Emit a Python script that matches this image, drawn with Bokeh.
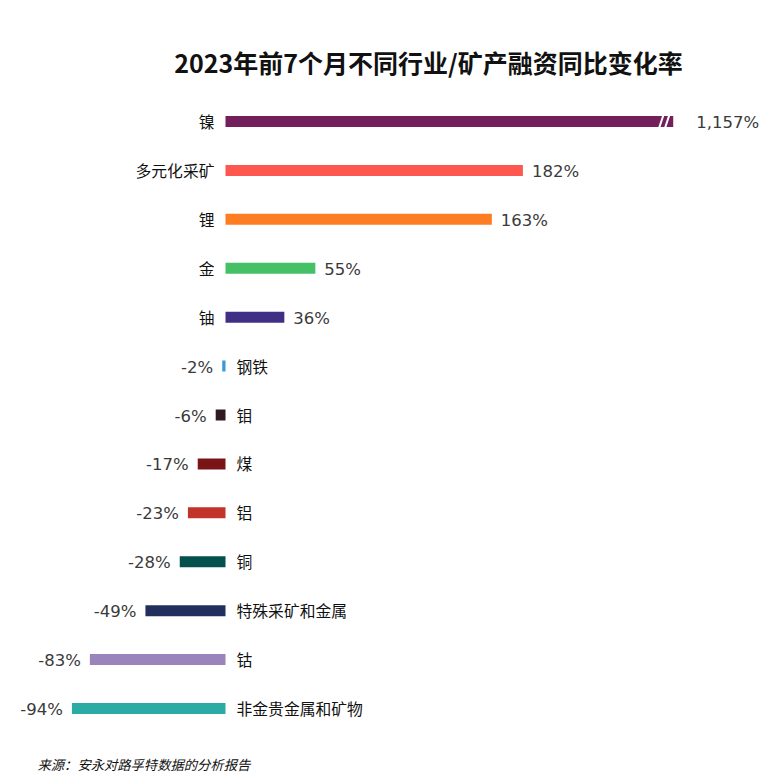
from bokeh.plotting import figure
from bokeh.models import ColumnDataSource, Range1d
from bokeh.core.properties import value
from bokeh.embed import file_html
from bokeh.resources import INLINE

# ---- data ----
categories = ["镍", "多元化采矿", "锂", "金", "铀", "钢铁", "钼", "煤", "铝", "铜",
              "特殊采矿和金属", "钴", "非金贵金属和矿物"]
changes = [1157, 182, 163, 55, 36, -2, -6, -17, -23, -28, -49, -83, -94]
colors = ["#721f5b", "#fd5750", "#fd7e22", "#45c067", "#412e85", "#3a9ad9", "#2f1a20",
          "#7a1416", "#c2342a", "#03504d", "#222f5e", "#9a84bb", "#2aaca5"]
axis_cap = 274  # broken-axis limit for the nickel bar
title_text = "2023年前7个月不同行业/矿产融资同比变化率"
source_text = "来源：安永对路孚特数据的分析报告"

# ---- layout ----
W, H = 760, 776
PX = 1.634          # px per percentage point
ROW = 48.92         # px per row
x0_page, y0_page = 225, 121   # page px of zero / first row
xs = -x0_page / PX
xe = xs + W / PX
ys = -y0_page / ROW
ye = (H - y0_page) / ROW

def dx(px):  # page x -> data x
    return xs + px / PX

def dy(py):  # page y -> data y
    return (py - y0_page) / ROW

n = len(categories)
idx = list(range(n))
disp = [min(v, axis_cap) for v in changes]
labels = [f"{v:,}%" for v in changes]
val_off = [(23 if v > axis_cap else 9) if v >= 0 else -9 for v in changes]
val_align = ["left" if v >= 0 else "right" for v in changes]
cat_off = [-11 if v >= 0 else 11 for v in changes]
cat_align = ["right" if v >= 0 else "left" for v in changes]

src = ColumnDataSource(dict(y=idx, right=disp, color=colors, lab=labels, voff=val_off,
                            valign=val_align, cat=categories, coff=cat_off,
                            calign=cat_align, zero=[0] * n))

p = figure(width=W, height=H, x_range=Range1d(xs, xe), y_range=Range1d(ye, ys),
           min_border=0, toolbar_location=None, output_backend="svg",
           x_axis_location=None, y_axis_location=None)
p.outline_line_color = None
p.xgrid.visible = False
p.ygrid.visible = False
p.background_fill_color = "white"

p.hbar(y="y", left="zero", right="right", height=0.225, fill_color="color",
       line_color=None, source=src)

# break marks on truncated bars
bk = [i for i, v in enumerate(changes) if v > axis_cap]
h2 = 0.13
for off in (7.3, 3.7):
    p.segment(x0=[axis_cap - off - 1.3] * len(bk), y0=[i + h2 for i in bk],
              x1=[axis_cap - off + 1.3] * len(bk), y1=[i - h2 for i in bk],
              line_color="white", line_width=2)

p.text(x="right", y="y", text="lab", x_offset="voff", text_align="valign",
       text_baseline="middle", text_font=value("DejaVu Sans"), text_font_size="16.5px",
       text_color="#3a3a3a", source=src, y_offset=1)
p.text(x="zero", y="y", text="cat", x_offset="coff", text_align="calign",
       text_baseline="middle", text_font=value("Noto Sans CJK SC"), text_font_size="15.8px",
       text_color="#111111", source=src)

p.text(x=[dx(428)], y=[dy(61)], text=[title_text], text_align="center",
       text_baseline="middle", text_font=value("Noto Sans CJK SC"), text_font_size="25px",
       text_font_style="bold", text_color="#111111")
p.text(x=[dx(37)], y=[dy(764)], text=[source_text], text_align="left",
       text_baseline="middle", text_font=value("Noto Sans CJK SC"), text_font_size="13.3px",
       text_font_style="italic", text_color="#111111")

open("out.html", "w").write(file_html(p, INLINE))
